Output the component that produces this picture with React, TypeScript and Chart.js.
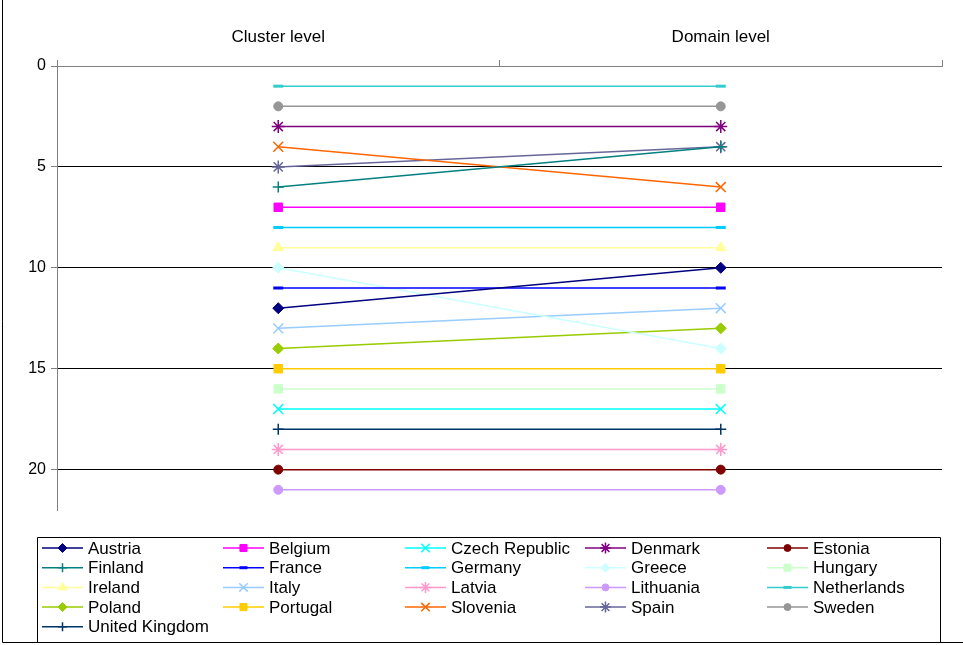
import React, { useEffect, useRef } from 'react';
import { Chart, registerables } from 'chart.js';
import { drawPoint } from 'chart.js/helpers';

Chart.register(...registerables);

const levels = ['Cluster level', 'Domain level'];
const countries = [
  'Austria', 'Belgium', 'Czech Republic', 'Denmark', 'Estonia',
  'Finland', 'France', 'Germany', 'Greece', 'Hungary',
  'Ireland', 'Italy', 'Latvia', 'Lithuania', 'Netherlands',
  'Poland', 'Portugal', 'Slovenia', 'Spain', 'Sweden',
  'United Kingdom',
];
const clusterRank = [12, 7, 17, 3, 20, 6, 11, 8, 10, 16, 9, 13, 19, 21, 1, 14, 15, 4, 5, 2, 18];
const domainRank = [10, 7, 17, 3, 20, 4, 11, 8, 14, 16, 9, 12, 19, 21, 1, 13, 15, 6, 4, 2, 18];
const colors = [
  '#000080', '#FF00FF', '#00FFFF', '#800080', '#800000',
  '#008080', '#0000FF', '#00CCFF', '#CCFFFF', '#CCFFCC',
  '#FFFF99', '#99CCFF', '#FF99CC', '#CC99FF', '#33CCCC',
  '#99CC00', '#FFCC00', '#FF6600', '#666699', '#969696',
  '#003366',
];
const markers = [
  'rectRot', 'rect', 'crossRot', 'star', 'circle',
  'cross', 'line', 'line', 'rectRot', 'rect',
  'triangle', 'crossRot', 'star', 'circle', 'line',
  'rectRot', 'rect', 'crossRot', 'star', 'circle',
  'cross',
];
const yTicks = [0, 5, 10, 15, 20];
const yMin = 0;
const yMax = 22;

const FONT = "'Liberation Sans', Arial, sans-serif";

function markerOpts(style: string) {
  const radius: Record<string, number> = {
    rectRot: 5.5, rect: 6, crossRot: 7, star: 6.5, circle: 4.5, cross: 5.5, line: 5, triangle: 6,
  };
  const lineLike = style === 'cross' || style === 'crossRot' || style === 'star';
  return {
    pointStyle: style,
    radius: radius[style] ?? 5,
    borderWidth: style === 'line' ? 3 : lineLike ? 1.5 : 1,
  };
}

const legendPlugin = {
  id: 'customLegend',
  afterDraw(chart: any) {
    const ctx = chart.ctx as CanvasRenderingContext2D;
    ctx.save();
    ctx.strokeStyle = '#000';
    ctx.lineWidth = 1;
    ctx.beginPath();
    ctx.moveTo(2.5, 0);
    ctx.lineTo(2.5, 642.5);
    ctx.lineTo(963, 642.5);
    ctx.stroke();
    ctx.beginPath();
    ctx.rect(37.5, 537.5, 903, 105);
    ctx.stroke();
    const colX = [42, 223, 405, 585, 767];
    ctx.font = `17px ${FONT}`;
    ctx.textBaseline = 'middle';
    ctx.textAlign = 'left';
    countries.forEach((name, i) => {
      const col = i % 5;
      const row = Math.floor(i / 5);
      const x0 = colX[col];
      const y = 548 + row * 19.7;
      const color = colors[i];
      ctx.strokeStyle = color;
      ctx.lineWidth = 1.5;
      ctx.beginPath();
      ctx.moveTo(x0, y);
      ctx.lineTo(x0 + 41, y);
      ctx.stroke();
      const m = markerOpts(markers[i]);
      ctx.strokeStyle = color;
      ctx.fillStyle = color;
      ctx.lineWidth = m.borderWidth;
      drawPoint(ctx, { pointStyle: m.pointStyle as any, radius: m.radius - 1, borderWidth: m.borderWidth, rotation: 0 } as any, x0 + 20.5, y);
      ctx.fillStyle = '#000';
      ctx.fillText(name, x0 + 46, y + 1);
    });
    ctx.restore();
  },
};

export default function App() {
  const ref = useRef<HTMLCanvasElement | null>(null);
  useEffect(() => {
    document.body.style.margin = '0';
    const canvas = ref.current!;
    const datasets = countries.map((name, i) => {
      const m = markerOpts(markers[i]);
      return {
        label: name,
        data: [clusterRank[i], domainRank[i]],
        borderColor: colors[i],
        backgroundColor: colors[i],
        borderWidth: 1.5,
        pointStyle: m.pointStyle,
        pointRadius: m.radius,
        pointBorderWidth: m.borderWidth,
        pointBackgroundColor: colors[i],
        pointBorderColor: colors[i],
        fill: false,
        tension: 0,
      };
    });
    const chart = new Chart(canvas, {
      type: 'line',
      data: { labels: levels, datasets: datasets as any },
      options: {
        responsive: false,
        animation: false,
        layout: { padding: { left: 0, right: 21, top: 0, bottom: 135 } },
        plugins: { legend: { display: false }, tooltip: { enabled: false } },
        scales: {
          x: {
            type: 'category',
            position: 'top',
            offset: true,
            grid: {
              offset: true,
              drawOnChartArea: false,
              drawTicks: true,
              tickLength: 6,
              tickColor: '#808080',
            },
            border: { color: '#808080', width: 1 },
            ticks: { color: '#000', font: { family: FONT, size: 17 }, padding: 12, maxRotation: 0 },
            afterFit: (s: any) => { s.height = 66; },
          },
          y: {
            type: 'linear',
            reverse: true,
            min: yMin,
            max: yMax,
            afterBuildTicks: (s: any) => { s.ticks = yTicks.map((v) => ({ value: v })); },
            grid: { color: '#000', lineWidth: 1, tickLength: 6, tickColor: '#808080', drawTicks: true },
            border: { color: '#808080', width: 1 },
            ticks: { color: '#000', font: { family: FONT, size: 16 }, padding: 5 },
            afterFit: (s: any) => { s.width = 57; },
          },
        },
      },
      plugins: [legendPlugin],
    });
    return () => chart.destroy();
  }, []);
  return <canvas ref={ref} width={963} height={645} style={{ display: 'block' }} />;
}
